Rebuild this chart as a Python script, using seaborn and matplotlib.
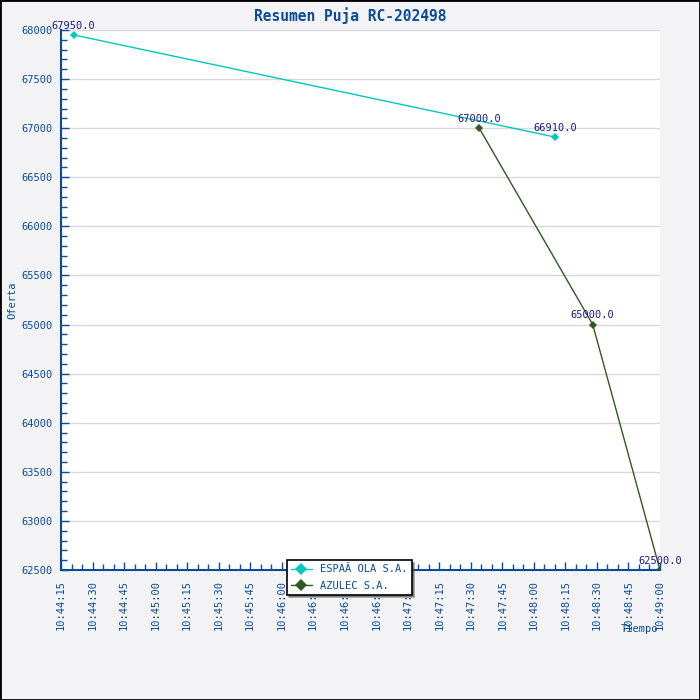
import matplotlib
matplotlib.use("Agg")
import matplotlib.pyplot as plt
import matplotlib.dates as mdates
import pandas as pd
import seaborn as sns

# Datos de la puja
espanola_times = ["10:44:21", "10:48:10"]
espanola_values = [67950.0, 66910.0]
azulec_times = ["10:47:34", "10:48:28", "10:49:00"]
azulec_values = [67000.0, 65000.0, 62500.0]
series_names = ["ESPAÃ OLA S.A.", "AZULEC S.A."]
series_colors = ["#00c8c0", "#2f5a1f"]

day = "2024-01-01 "
df = pd.concat([
    pd.DataFrame({"Tiempo": pd.to_datetime([day + t for t in espanola_times]),
                  "Oferta": espanola_values, "Empresa": series_names[0]}),
    pd.DataFrame({"Tiempo": pd.to_datetime([day + t for t in azulec_times]),
                  "Oferta": azulec_values, "Empresa": series_names[1]}),
], ignore_index=True)

sns.set_style("white")
plt.rcParams["font.family"] = ["DejaVu Sans Mono", "DejaVu Sans"]

axis_blue = "#0a4a96"
fig = plt.figure(figsize=(7, 7), dpi=100, facecolor="#f3f3f5")
ax = fig.add_axes([61 / 700, 130 / 700, 599 / 700, 540 / 700])
ax.set_facecolor("white")

sns.lineplot(
    data=df, x="Tiempo", y="Oferta", hue="Empresa", palette=series_colors,
    marker="D", markersize=4, markeredgewidth=0, linewidth=1, ax=ax,
)

# Etiquetas de valores
for _, row in df.iterrows():
    ax.annotate(f"{row['Oferta']:.1f}", (row["Tiempo"], row["Oferta"]),
                xytext=(0, 3), textcoords="offset points", ha="center",
                va="bottom", fontsize=7.5, color="#1a1a80", annotation_clip=False)

ax.set_xlim(pd.Timestamp(day + "10:44:15"), pd.Timestamp(day + "10:49:00"))
ax.set_ylim(62500, 68000)
ax.yaxis.set_major_locator(plt.MultipleLocator(500))
ax.yaxis.set_minor_locator(plt.MultipleLocator(100))
ax.xaxis.set_major_locator(mdates.SecondLocator(bysecond=[0, 15, 30, 45]))
ax.xaxis.set_minor_locator(mdates.SecondLocator(bysecond=range(0, 60, 5)))
ax.xaxis.set_major_formatter(mdates.DateFormatter("%H:%M:%S"))

ax.grid(axis="y", color="#d8d8d8", linewidth=1)
for side in ["top", "right"]:
    ax.spines[side].set_visible(False)
for side in ["left", "bottom"]:
    ax.spines[side].set_color(axis_blue)
    ax.spines[side].set_linewidth(1.5)

ax.tick_params(axis="both", which="both", direction="in", colors=axis_blue,
               labelsize=7.5, width=1)
ax.tick_params(which="major", length=6)
ax.tick_params(which="minor", length=4)
ax.tick_params(axis="y", which="both", left=True, pad=6)
ax.tick_params(axis="x", which="both", bottom=True, pad=7)
plt.setp(ax.get_xticklabels(), rotation=90)

ax.set_xlabel("Tiempo", fontsize=7.5, color=axis_blue)
ax.xaxis.set_label_coords(0.965, -0.1)
ax.set_ylabel("Oferta", fontsize=7.5, color=axis_blue)
ax.yaxis.set_label_coords(-0.072, 0.5)

fig.suptitle("Resumen Puja RC-202498", x=0.5, y=0.99, fontsize=10.5,
             fontweight="bold", color=axis_blue)

leg = ax.legend(loc="upper center", bbox_to_anchor=(0.481, 0.028), ncol=1,
                frameon=True, fancybox=False, shadow=True, fontsize=7.5,
                borderpad=0.4, labelspacing=0.6, handlelength=2.0,
                markerscale=1.6)
leg.get_frame().set_edgecolor("black")
leg.get_frame().set_linewidth(1.2)
for text in leg.get_texts():
    text.set_color(axis_blue)

# Borde exterior
fig.patches.append(plt.Rectangle((0, 0), 1, 1, transform=fig.transFigure,
                                 fill=False, edgecolor="black", linewidth=2))

fig.savefig("out.png", dpi=100, facecolor=fig.get_facecolor())
